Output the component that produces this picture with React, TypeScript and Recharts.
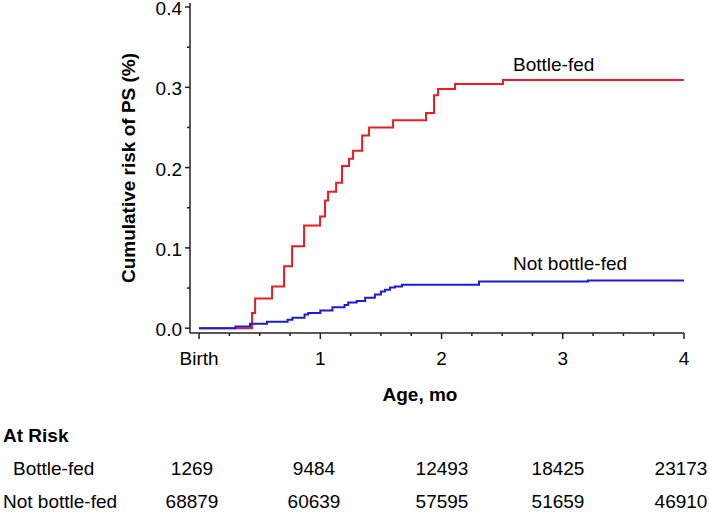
import React from "react";
import { LineChart, Line, XAxis, YAxis, Customized } from "recharts";

// Cumulative risk (%) step points: [age in months, risk]
const bottleFedT = [0, 0.437, 0.462, 0.602, 0.701, 0.767, 0.866, 0.998, 1.039, 1.064, 1.13, 1.179, 1.237, 1.27, 1.345, 1.402, 1.6, 1.872, 1.938, 1.971, 2.111, 2.507, 4.0];
const bottleFedV = [0, 0.019, 0.037, 0.052, 0.077, 0.102, 0.128, 0.139, 0.159, 0.17, 0.181, 0.202, 0.211, 0.221, 0.24, 0.25, 0.259, 0.268, 0.29, 0.298, 0.304, 0.309, 0.309];

const notBottleFedT = [0, 0.3, 0.42, 0.56, 0.73, 0.77, 0.87, 0.9, 1.0, 1.1, 1.2, 1.23, 1.3, 1.37, 1.45, 1.5, 1.534, 1.575, 1.616, 1.674, 2.309, 3.208, 4.0];
const notBottleFedV = [0, 0.002, 0.0056, 0.008, 0.0106, 0.013, 0.017, 0.019, 0.022, 0.026, 0.029, 0.032, 0.034, 0.038, 0.042, 0.0456, 0.048, 0.0506, 0.052, 0.054, 0.058, 0.0595, 0.0595];

const xTicks = [0, 0.25, 0.5, 0.75, 1, 1.25, 1.5, 1.75, 2, 2.25, 2.5, 2.75, 3, 3.25, 3.5, 3.75, 4];
const xTickLabels: Record<string, string> = { "0": "Birth", "1": "1", "2": "2", "3": "3", "4": "4" };
const yTicks = [0, 0.05, 0.1, 0.15, 0.2, 0.25, 0.3, 0.35, 0.4];

const seriesNames = ["Bottle-fed", "Not bottle-fed"];
const atRiskBottleFed = ["1269", "9484", "12493", "18425", "23173"];
const atRiskNotBottleFed = ["68879", "60639", "57595", "51659", "46910"];

const bottleFed = bottleFedT.map((t, i) => ({ t, v: bottleFedV[i] }));
const notBottleFed = notBottleFedT.map((t, i) => ({ t, v: notBottleFedV[i] }));

const FONT = "'Liberation Sans', Arial, sans-serif";
const RED = "#ec1c24";
const BLUE = "#1c1cd4";
const AXIS = "#222";

const tableCols = [192, 314, 442, 558, 681];

const XTick = (props: any) => {
  const { x, y, payload } = props;
  const v = payload.value;
  const major = Math.abs(v - Math.round(v)) < 1e-6;
  return (
    <g>
      <line x1={x} x2={x} y1={y} y2={y + (major ? 6 : 3)} stroke={AXIS} strokeWidth={1.5} />
      {major && (
        <text x={x} y={y + 32} textAnchor="middle" fontSize={19} fontFamily={FONT} fill="#000">
          {xTickLabels[String(Math.round(v))]}
        </text>
      )}
    </g>
  );
};

const YTick = (props: any) => {
  const { x, y, payload } = props;
  const v = payload.value;
  const major = Math.abs(v * 10 - Math.round(v * 10)) < 1e-6;
  return (
    <g>
      <line x1={x - (major ? 5 : 3)} x2={x} y1={y} y2={y} stroke={AXIS} strokeWidth={1.5} />
      {major && (
        <text x={x - 8} y={y + 8} textAnchor="end" fontSize={19} fontFamily={FONT} fill="#000">
          {v.toFixed(1)}
        </text>
      )}
    </g>
  );
};

const Annotations = () => (
  <g fontFamily={FONT} fill="#000">
    <text x={128} y={168} transform="rotate(-90,128,168)" dy={7} textAnchor="middle" fontSize={19} fontWeight="bold">
      Cumulative risk of PS (%)
    </text>
    <text x={513} y={71} fontSize={19}>{seriesNames[0]}</text>
    <text x={513} y={270} fontSize={19}>{seriesNames[1]}</text>
    <text x={420} y={401} textAnchor="middle" fontSize={19} fontWeight="bold">Age, mo</text>
    <text x={3} y={442} fontSize={19} fontWeight="bold">At Risk</text>
    <text x={13} y={475} fontSize={19}>{seriesNames[0]}</text>
    <text x={3} y={508} fontSize={19}>{seriesNames[1]}</text>
    {atRiskBottleFed.map((s, i) => (
      <text key={"a" + i} x={tableCols[i]} y={475} textAnchor="middle" fontSize={19}>{s}</text>
    ))}
    {atRiskNotBottleFed.map((s, i) => (
      <text key={"b" + i} x={tableCols[i]} y={508} textAnchor="middle" fontSize={19}>{s}</text>
    ))}
  </g>
);

export default function App() {
  return (
    <div style={{ position: "absolute", left: 0, top: 0, width: 709, height: 513, background: "#fff" }}>
      <LineChart width={709} height={513} margin={{ top: 3, right: 25, left: 0, bottom: 150 }}>
        <XAxis
          type="number"
          dataKey="t"
          domain={[-0.075, 4]}
          ticks={xTicks}
          allowDataOverflow
          height={30}
          tick={<XTick />}
          tickSize={0}
          tickMargin={0}
          tickLine={false}
          axisLine={{ stroke: AXIS, strokeWidth: 1.5 }}
          interval={0}
        />
        <YAxis
          type="number"
          dataKey="v"
          domain={[-0.006, 0.405]}
          ticks={yTicks}
          allowDataOverflow
          width={190}
          tick={<YTick />}
          tickSize={0}
          tickMargin={0}
          tickLine={false}
          axisLine={{ stroke: AXIS, strokeWidth: 1.5 }}
          interval={0}
        />
        <Line data={bottleFed} dataKey="v" type="stepAfter" stroke={RED} strokeWidth={2} dot={false} isAnimationActive={false} />
        <Line data={notBottleFed} dataKey="v" type="stepAfter" stroke={BLUE} strokeWidth={2} dot={false} isAnimationActive={false} />
        <Customized component={Annotations} />
      </LineChart>
    </div>
  );
}
